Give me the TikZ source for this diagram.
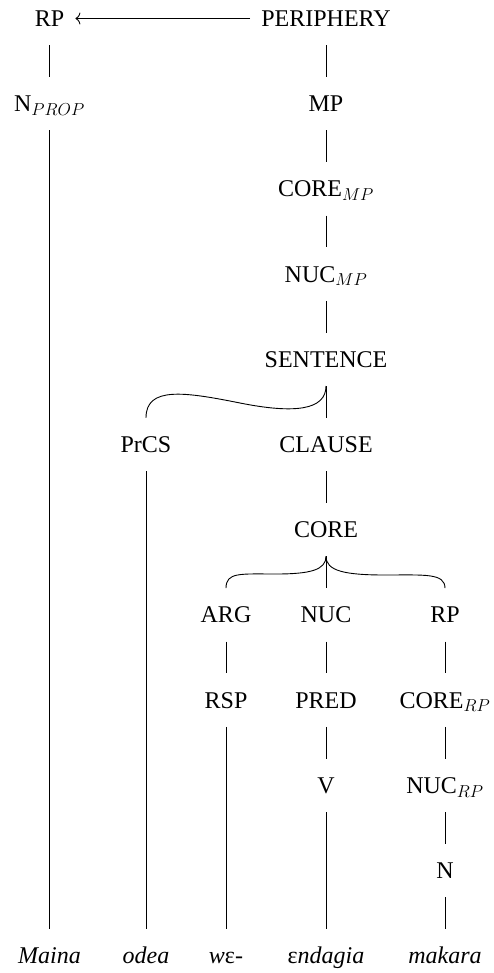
\documentclass[tikz,border=0pt]{standalone}
\usepackage{fontspec}
\setmainfont{Liberation Serif}
\usetikzlibrary{arrows.meta}
\tikzset{
  lbl/.style={inner xsep=11pt, inner ysep=18.5pt, text height=16pt, text depth=0pt,
    font=\fontsize{24}{28}\selectfont},
  word/.style={lbl, font=\fontsize{24}{28}\selectfont\itshape},
  conn/.style={line width=0.9pt}
}
\begin{document}
\begin{tikzpicture}[x=1pt,y=-1pt]
\useasboundingbox (0,0) rectangle (493,973);
\node[lbl] (rp) at (49.5,18.5) {RP};
\node[lbl] (peri) at (326,18.5) {PERIPHERY};
\node[lbl] (nprop) at (49.5,103.7) {N$_{PROP}$};
\node[lbl] (mp) at (326,103.7) {MP};
\node[lbl] (coremp) at (326,188.9) {CORE$_{MP}$};
\node[lbl] (nucmp) at (326,274.1) {NUC$_{MP}$};
\node[lbl] (sent) at (326,359.3) {SENTENCE};
\node[lbl] (prcs) at (146,444.5) {PrCS};
\node[lbl] (clause) at (326,444.5) {CLAUSE};
\node[lbl] (core) at (326,529.7) {CORE};
\node[lbl] (arg) at (226,614.9) {ARG};
\node[lbl] (nuc) at (326,614.9) {NUC};
\node[lbl] (rpb) at (445,614.9) {RP};
\node[lbl] (rsp) at (226,700.1) {RSP};
\node[lbl] (pred) at (326,700.1) {PRED};
\node[lbl] (corerp) at (445,700.1) {CORE$_{RP}$};
\node[lbl] (v) at (326,785.3) {V};
\node[lbl] (nucrp) at (445,785.3) {NUC$_{RP}$};
\node[lbl] (n) at (445,870.5) {N};
\node[word] (maina) at (49.5,955.7) {Maina};
\node[word] (odea) at (146,955.7) {odea};
\node[word] (we) at (226,955.7) {w{\upshape ɛ}-};
\node[word] (endagia) at (326,955.7) {{\upshape ɛ}ndagia};
\node[word] (makara) at (445,955.7) {makara};

\draw[conn,-{To[length=5pt,width=12pt]}] (peri) -- (rp);
\draw[conn] (rp) -- (nprop);
\draw[conn] (nprop) -- (maina);
\draw[conn] (peri) -- (mp);
\draw[conn] (mp) -- (coremp);
\draw[conn] (coremp) -- (nucmp);
\draw[conn] (nucmp) -- (sent);
\draw[conn] (sent) -- (clause);
\draw[conn] (sent.south) .. controls (326,410) and (295,414) .. (240,403)
  .. controls (185,392) and (146,386) .. (prcs.north);
\draw[conn] (prcs) -- (odea);
\draw[conn] (clause) -- (core);
\draw[conn] (core) -- (nuc);
\draw[conn] (core.south) .. controls (326,570) and (310,574) .. (276,574)
  .. controls (240,574) and (226,572) .. (arg.north);
\draw[conn] (core.south) .. controls (326,571) and (345,575) .. (385,575)
  .. controls (425,575) and (445,573) .. (rpb.north);
\draw[conn] (arg) -- (rsp);
\draw[conn] (rsp) -- (we);
\draw[conn] (nuc) -- (pred);
\draw[conn] (pred) -- (v);
\draw[conn] (v) -- (endagia);
\draw[conn] (rpb) -- (corerp);
\draw[conn] (corerp) -- (nucrp);
\draw[conn] (nucrp) -- (n);
\draw[conn] (n) -- (makara);
\end{tikzpicture}
\end{document}
